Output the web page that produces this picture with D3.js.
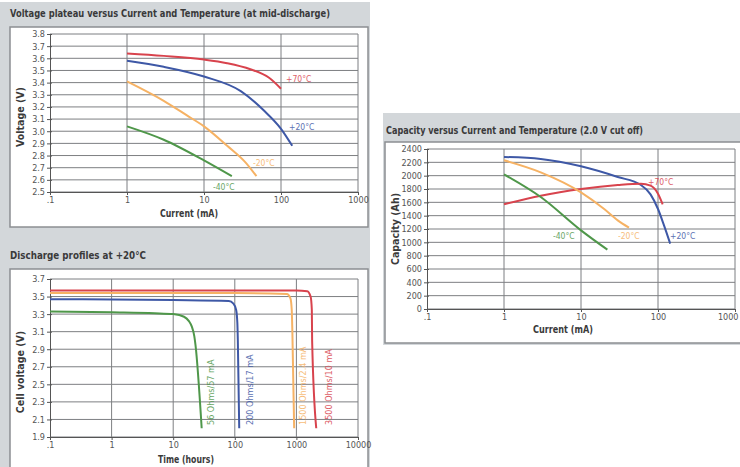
<!DOCTYPE html>
<html><head><meta charset="utf-8">
<script src="https://cdn.jsdelivr.net/npm/d3@7"></script>
<style>body{margin:0;background:#fff}svg{display:block}</style>
</head><body>
<script>
// ---------- DATA ----------
// Chart 1: Voltage plateau vs current (mA -> V)
const c1Ticks = [2.5,2.6,2.7,2.8,2.9,3.0,3.1,3.2,3.3,3.4,3.5,3.6,3.7,3.8];
const c1XTicks = [0.1,1,10,100,1000];
const c1XLabels = [".1","1","10","100","1000"];
const c1Red = [[1,3.64],[3,3.62],[10,3.59],[20,3.56],[40,3.51],[70,3.44],[100,3.35]];
const c1Blue = [[1,3.58],[3,3.53],[10,3.45],[30,3.33],[60,3.17],[100,3.02],[140,2.88]];
const c1Orange = [[1,3.41],[3,3.25],[6,3.13],[10,3.04],[20,2.88],[35,2.74],[48,2.63]];
const c1Green = [[1,3.04],[3,2.93],[10,2.76],[23,2.63]];
// Chart 2: Discharge profiles (hours -> V)
const c2Ticks = [1.9,2.1,2.3,2.5,2.7,2.9,3.1,3.3,3.5,3.7];
const c2XTicks = [0.1,1,10,100,1000,10000];
const c2XLabels = [".1","1","10","100","1000","10000"];
const c2Green = [[0.1,3.33],[1,3.32],[5,3.31],[10,3.30],[15,3.27],[18,3.22],[20,3.16],[22,3.05],[23,2.95],[29,2.0]];
const c2Blue = [[0.1,3.47],[10,3.46],[80,3.45],[95,3.42],[105,3.35],[110,3.2],[112,3.0],[118,2.0]];
const c2Orange = [[0.1,3.54],[100,3.54],[700,3.53],[800,3.48],[840,3.35],[860,3.1],[920,2.0]];
const c2Red = [[0.1,3.57],[1000,3.57],[1500,3.56],[1700,3.5],[1780,3.35],[1800,3.0],[2100,2.0]];
// Chart 3: Capacity vs current (mA -> Ah)
const c3Ticks = [0,200,400,600,800,1000,1200,1400,1600,1800,2000,2200,2400];
const c3XTicks = [0.1,1,10,100,1000];
const c3XLabels = [".1","1","10","100","1000"];
const c3Blue = [[1,2280],[3,2250],[10,2140],[30,1980],[60,1860],[80,1720],[100,1500],[120,1250],[144,980]];
const c3Red = [[1,1570],[3,1700],[10,1800],[30,1860],[60,1880],[80,1850],[100,1730],[115,1570]];
const c3Orange = [[1,2230],[3,2050],[10,1750],[20,1500],[30,1330],[42,1220]];
const c3Green = [[1,2020],[3,1680],[10,1180],[22,890]];

const RED="#d8434d", BLUE="#3e58a6", ORANGE="#f6b264", GREEN="#4f974a";
const FONT="DejaVu Sans Condensed, DejaVu Sans";

const W=740,H=467;
const svg=d3.select("body").append("svg").attr("width",W).attr("height",H);

// panels
svg.append("rect").attr("x",0).attr("y",2).attr("width",370).attr("height",465).attr("fill","#d3d7da");
svg.append("rect").attr("x",10).attr("y",27).attr("width",358).attr("height",200).attr("fill","#fff").attr("stroke","#8c8f92").attr("stroke-width",1.5);
svg.append("rect").attr("x",10).attr("y",269).attr("width",358).attr("height",205).attr("fill","#fff").attr("stroke","#8c8f92").attr("stroke-width",1.5);
svg.append("rect").attr("x",383).attr("y",113).attr("width",360).attr("height",232).attr("fill","#d3d7da");
svg.append("rect").attr("x",385).attr("y",142).attr("width",360).attr("height",201).attr("fill","#fff").attr("stroke","#8c8f92").attr("stroke-width",1.5);

function title(x,y,len,txt){
  svg.append("text").attr("x",x).attr("y",y).attr("textLength",len).attr("lengthAdjust","spacingAndGlyphs")
    .attr("font-family","DejaVu Sans").attr("font-weight","bold").attr("font-size",10.5).attr("fill","#3a3a3a").text(txt);
}
title(10,17,320,"Voltage plateau versus Current and Temperature (at mid-discharge)");
title(10,259,136,"Discharge profiles at +20°C");
title(386,134,257,"Capacity versus Current and Temperature (2.0 V cut off)");

function chart(o){
  const x=d3.scaleLog().domain(o.xd).range(o.xr);
  const y=d3.scaleLinear().domain(o.yd).range(o.yr);
  const g=svg.append("g");
  g.selectAll(".hg").data(o.yTicks).join("line").attr("x1",o.xr[0]).attr("x2",o.xr[1])
    .attr("y1",d=>y(d)).attr("y2",d=>y(d)).attr("stroke","#7d7f82").attr("stroke-width",1);
  g.selectAll(".vg").data(o.xTicks.slice(1)).join("line").attr("x1",d=>x(d)).attr("x2",d=>x(d))
    .attr("y1",o.yr[0]).attr("y2",o.yr[1]).attr("stroke","#7d7f82").attr("stroke-width",1);
  const ya=g.append("g").attr("transform",`translate(${o.xr[0]},0)`)
    .call(d3.axisLeft(y).tickValues(o.yTicks).tickSize(3).tickFormat(o.yFmt));
  ya.select(".domain").attr("stroke","#555");
  ya.selectAll(".tick line").attr("stroke","#555").attr("x2",-3).attr("x1",2);
  ya.selectAll("text").attr("font-family",FONT).attr("font-size",9).attr("fill","#555").attr("x",-5);
  const xa=g.append("g").attr("transform",`translate(0,${o.yr[0]})`)
    .call(d3.axisBottom(x).tickValues(o.xTicks).tickSize(3).tickFormat((d,i)=>o.xLabels[i]));
  xa.select(".domain").attr("stroke","#555");
  xa.selectAll(".tick line").attr("stroke","#555");
  xa.selectAll("text").attr("font-family",FONT).attr("font-size",9).attr("fill","#555").attr("y",5);
  if(o.lastEnd){ xa.selectAll("text").filter((d,i,n)=>i===n.length-1).attr("text-anchor","end").attr("dx",3); }
  const line=d3.line().x(d=>x(d[0])).y(d=>y(d[1])).curve(d3.curveMonotoneX);
  o.series.forEach(s=>{
    g.append("path").datum(s.data).attr("d",line).attr("fill","none").attr("stroke",s.color).attr("stroke-width",2);
  });
  g.append("text").attr("x",o.xtPos[0]).attr("y",o.xtPos[1]).attr("text-anchor","middle")
    .attr("textLength",o.xtLen).attr("lengthAdjust","spacingAndGlyphs")
    .attr("font-family",FONT).attr("font-weight","bold").attr("font-size",10.5).attr("fill","#3a3a3a").text(o.xTitle);
  g.append("text").attr("transform",`translate(${o.ytPos[0]},${o.ytPos[1]}) rotate(-90)`).attr("text-anchor","middle")
    .attr("font-family",FONT).attr("font-weight","bold").attr("font-size",10.5).attr("fill","#3a3a3a").text(o.yTitle);
  o.labels.forEach(l=>{
    const t=g.append("text").attr("font-family",FONT).attr("font-size",l.fs||8.5).attr("fill",l.color).attr("opacity",0.85);
    if(l.rot){ t.attr("transform",`translate(${l.x},${l.y}) rotate(-90)`); } else { t.attr("x",l.x).attr("y",l.y); }
    t.text(l.text);
  });
}

chart({xd:[0.1,1000],xr:[50,358],yd:[2.5,3.8],yr:[192,34],yTicks:c1Ticks,xTicks:c1XTicks,xLabels:c1XLabels,
  yFmt:d3.format(".1f"),xTitle:"Current (mA)",xtPos:[189,217],xtLen:58,yTitle:"Voltage (V)",ytPos:[24,117],
  series:[{data:c1Red,color:RED},{data:c1Blue,color:BLUE},{data:c1Orange,color:ORANGE},{data:c1Green,color:GREEN}],
  labels:[{x:286,y:82,text:"+70°C",color:RED},{x:289,y:130,text:"+20°C",color:BLUE},{x:253,y:166,text:"-20°C",color:ORANGE},{x:213,y:190,text:"-40°C",color:GREEN}]});

chart({xd:[0.1,10000],xr:[50,358],yd:[1.9,3.7],yr:[437,279],yTicks:c2Ticks,xTicks:c2XTicks,xLabels:c2XLabels,
  yFmt:d3.format(".1f"),xTitle:"Time (hours)",xtPos:[186,463],xtLen:56,yTitle:"Cell voltage (V)",ytPos:[24,372],
  series:[{data:c2Green,color:GREEN},{data:c2Blue,color:BLUE},{data:c2Orange,color:ORANGE},{data:c2Red,color:RED}],
  labels:[{x:214,y:425,text:"56 Ohms/57 mA",color:GREEN,rot:true,fs:9},{x:253,y:425,text:"200 Ohms/17 mA",color:BLUE,rot:true,fs:9},
          {x:306,y:425,text:"1500 Ohms/2.4 mA",color:ORANGE,rot:true,fs:9},{x:332,y:425,text:"3500 Ohms/10 mA",color:RED,rot:true,fs:9}]});

chart({xd:[0.1,1000],xr:[427,735],yd:[0,2400],yr:[309,149],yTicks:c3Ticks,xTicks:c3XTicks,xLabels:c3XLabels,lastEnd:true,
  yFmt:d3.format("d"),xTitle:"Current (mA)",xtPos:[563,333],xtLen:60,yTitle:"Capacity (Ah)",ytPos:[399,229],
  series:[{data:c3Blue,color:BLUE},{data:c3Red,color:RED},{data:c3Orange,color:ORANGE},{data:c3Green,color:GREEN}],
  labels:[{x:648,y:185,text:"+70°C",color:RED},{x:670,y:239,text:"+20°C",color:BLUE},{x:618,y:239,text:"-20°C",color:ORANGE},{x:553,y:239,text:"-40°C",color:GREEN}]});
</script>
</body></html>
